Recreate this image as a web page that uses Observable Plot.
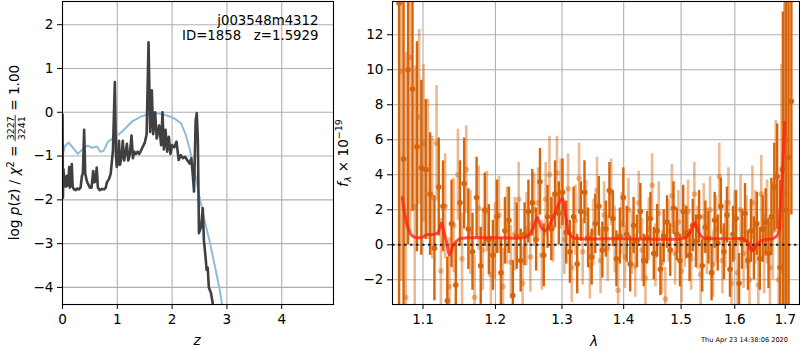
<!DOCTYPE html>
<html><head><meta charset="utf-8">
<script src="https://cdn.jsdelivr.net/npm/d3@7"></script>
<script src="https://cdn.jsdelivr.net/npm/@observablehq/plot@0.6"></script>
<style>
body{margin:0;background:#fff;}
#wrap{position:relative;width:800px;height:350px;font-family:"DejaVu Sans",sans-serif;overflow:hidden;}
#wrap svg{position:absolute;top:0;}
</style></head><body><div id="wrap"></div>
<script>
// ---------- left panel: log p(z) ----------
const zTicks = [0, 1, 2, 3, 4];
const pzTicks = [-4, -3, -2, -1, 0, 1, 2];
const zPz = [0.000,0.008,0.018,0.030,0.045,0.060,0.075,0.090,0.110,0.122,0.135,0.150,0.170,0.185,0.210,0.240,0.270,0.300,0.330,0.355,0.372,0.395,0.415,0.440,0.460,0.500,0.530,0.560,0.580,0.600,0.625,0.645,0.680,0.720,0.760,0.790,0.810,0.850,0.880,0.920,0.955,0.975,0.990,1.010,1.030,1.050,1.080,1.100,1.125,1.155,1.175,1.200,1.230,1.260,1.285,1.310,1.340,1.370,1.400,1.430,1.460,1.500,1.535,1.570,1.600,1.630,1.655,1.690,1.720,1.765,1.800,1.825,1.850,1.880,1.910,1.940,1.970,2.000,2.040,2.080,2.120,2.160,2.200,2.240,2.280,2.320,2.350,2.380,2.400,2.430,2.450,2.470,2.490,2.530,2.560,2.580,2.610,2.630,2.650,2.670,2.710,2.760,2.800];
const logPz = [-0.05,-1.95,-1.30,-1.60,-1.55,-1.70,-1.45,-1.68,-1.55,-1.25,-1.72,-1.62,-1.18,-1.70,-1.76,-1.78,-1.74,-1.76,-1.72,-1.45,-1.40,-0.40,-1.40,-1.55,-1.62,-1.72,-1.72,-1.34,-1.60,-1.58,-1.26,-1.72,-1.78,-1.75,-1.76,-1.72,-1.60,-1.52,-1.40,-0.88,0.69,-0.95,-1.25,-1.15,-0.65,-1.20,-1.00,-0.65,-1.10,-0.90,-0.72,-1.10,-0.95,-0.53,-1.05,-0.90,-0.95,-0.90,-0.95,-0.88,-0.80,-0.70,-0.50,1.60,-0.45,0.50,-0.50,0.00,-0.60,-0.30,-0.75,0.00,-0.85,-0.40,-0.90,-0.56,-0.95,-0.75,-0.80,-0.67,-1.09,-0.98,-1.05,-1.02,-1.10,-1.17,-1.05,-1.47,-1.81,-0.18,-0.02,-0.63,-2.76,-2.61,-2.19,-2.92,-3.30,-3.60,-3.55,-4.00,-4.13,-4.51,-4.90];
const zPrior = [0.00,0.04,0.11,0.17,0.28,0.39,0.46,0.54,0.63,0.69,0.75,0.83,0.97,1.09,1.27,1.43,1.58,1.73,1.92,2.04,2.16,2.24,2.31,2.41,2.50,2.59,2.68,2.77,2.87,2.91,2.96];
const logPrior = [-1.00,-0.78,-0.69,-0.78,-0.95,-0.82,-0.76,-0.81,-0.78,-0.90,-0.88,-0.67,-0.56,-0.44,-0.21,-0.10,-0.04,-0.02,-0.08,-0.14,-0.25,-0.48,-0.78,-1.32,-1.93,-2.46,-2.92,-3.45,-4.06,-4.38,-4.75];
const annotLine1 = "j003548m4312";
const annotLine2 = "ID=1858\u00a0\u00a0\u00a0z=1.5929";

// ---------- right panel: spectrum ----------
const lamTicks = [1.1, 1.2, 1.3, 1.4, 1.5, 1.6, 1.7];
const fluxTicks = [-2, 0, 2, 4, 6, 8, 10, 12];
const lamA = [1.0688,1.0746,1.0804,1.0862,1.0920,1.0978,1.1036,1.1094,1.1152,1.1210,1.1268,1.1326,1.1384,1.1442,1.1500,1.1558,1.1616,1.1674,1.1732,1.1790,1.1848,1.1906,1.1964,1.2022,1.2080,1.2138,1.2196,1.2254,1.2312,1.2370,1.2428,1.2486,1.2544,1.2602,1.2660,1.2718,1.2776,1.2834,1.2892,1.2950,1.3008,1.3066,1.3124,1.3182,1.3240,1.3298,1.3356,1.3414,1.3472,1.3530,1.3588,1.3646,1.3704,1.3762,1.3820,1.3878,1.3936,1.3994,1.4052,1.4110,1.4168,1.4226,1.4284,1.4342,1.4400,1.4458,1.4516,1.4574,1.4632,1.4690,1.4748,1.4806,1.4864,1.4922,1.4980,1.5038,1.5096,1.5154,1.5212,1.5270,1.5328,1.5386,1.5444,1.5502,1.5560,1.5618,1.5676,1.5734,1.5792,1.5850,1.5908,1.5966,1.6024,1.6082,1.6140,1.6198,1.6256,1.6314,1.6372,1.6430,1.6488,1.6546,1.6604,1.6662,1.6720,1.6778,1.6836,1.6894,1.6952,1.7010,1.7068,1.7126];
const fluxA = [13.8,4.9,10.0,8.9,5.6,4.4,4.3,2.9,-0.2,3.3,2.2,-3.2,1.2,-2.3,2.4,3.5,0.9,-0.4,2.7,-1.2,2.0,0.3,-0.6,1.6,-1.6,0.8,1.4,-2.9,0.5,-0.9,0.6,1.9,2.4,0.3,3.6,-0.6,1.6,0.9,2.9,1.8,3.0,0.7,-0.4,1.6,-1.1,1.9,3.0,0.4,-0.7,1.2,2.2,-0.3,0.9,3.1,1.5,-0.8,0.5,2.7,0.6,-1.1,1.1,0.2,1.9,-0.9,0.4,1.5,-0.5,0.8,-1.4,0.5,1.3,-0.3,2.1,0.6,-0.9,1.9,0.7,-0.6,1.1,0.2,1.6,-1.2,1.0,0.4,-1.6,1.4,0.1,2.2,-0.4,1.7,-1.4,0.6,1.5,-2.2,0.3,1.8,-0.9,0.8,-0.2,1.2,-0.8,0.9,1.3,-0.5,1.6,3.3,3.9,-1.3,4.3,2.0,5.0,8.2];
const errA = [20,9,10,7,6,5,4,3.5,3,2.8,2.6,2.5,2.5,2.4,2.4,2.6,2.3,2.2,2.3,2.2,2.1,2.0,2.0,2.1,2.0,1.9,1.9,2.0,1.9,1.8,1.8,1.8,1.9,1.8,1.9,1.8,1.8,1.8,1.9,1.8,1.9,1.8,1.8,1.7,1.7,1.7,1.8,1.7,1.6,1.7,1.7,1.6,1.6,1.6,1.6,1.6,1.6,1.7,1.6,1.6,1.6,1.5,1.6,1.5,1.5,1.5,1.5,1.5,1.5,1.5,1.5,1.5,1.5,1.5,1.5,1.5,1.5,1.5,1.5,1.5,1.5,1.5,1.5,1.5,1.6,1.6,1.6,1.6,1.6,1.6,1.6,1.6,1.6,1.7,1.7,1.7,1.7,1.8,1.8,1.8,1.8,1.9,1.9,2.0,2.2,2.5,3,5,9,20,30,6.5];
const lamB = [1.0717,1.0775,1.0833,1.0891,1.0949,1.1007,1.1065,1.1123,1.1181,1.1239,1.1297,1.1355,1.1413,1.1471,1.1529,1.1587,1.1645,1.1703,1.1761,1.1819,1.1877,1.1935,1.1993,1.2051,1.2109,1.2167,1.2225,1.2283,1.2341,1.2399,1.2457,1.2515,1.2573,1.2631,1.2689,1.2747,1.2805,1.2863,1.2921,1.2979,1.3037,1.3095,1.3153,1.3211,1.3269,1.3327,1.3385,1.3443,1.3501,1.3559,1.3617,1.3675,1.3733,1.3791,1.3849,1.3907,1.3965,1.4023,1.4081,1.4139,1.4197,1.4255,1.4313,1.4371,1.4429,1.4487,1.4545,1.4603,1.4661,1.4719,1.4777,1.4835,1.4893,1.4951,1.5009,1.5067,1.5125,1.5183,1.5241,1.5299,1.5357,1.5415,1.5473,1.5531,1.5589,1.5647,1.5705,1.5763,1.5821,1.5879,1.5937,1.5995,1.6053,1.6111,1.6169,1.6227,1.6285,1.6343,1.6401,1.6459,1.6517,1.6575,1.6633,1.6691,1.6749,1.6807,1.6865,1.6923,1.6981,1.7039];
const fluxB = [9.9,-3.0,10.7,2.2,7.3,5.8,4.3,2.7,5.8,-1.5,2.2,-2.4,1.1,4.0,-0.8,4.3,0.7,-3.0,2.1,-0.3,1.9,-1.7,0.2,1.7,-2.4,1.1,-1.0,0.6,2.6,-2.2,0.9,-0.7,2.0,2.4,-0.6,2.6,4.0,1.0,4.1,2.9,0.3,3.2,-1.3,1.4,3.8,-0.4,1.8,-1.2,0.7,3.1,-0.9,1.7,-0.2,3.0,0.3,-2.6,1.2,-0.7,2.0,0.1,-1.2,2.4,-0.3,-1.9,0.9,3.4,-0.6,1.8,-1.0,-3.1,0.8,2.8,-0.5,1.3,-1.5,0.5,1.9,-0.8,2.9,0.4,-1.7,1.6,0.2,2.0,-1.1,0.9,3.9,-0.9,0.6,2.4,-2.2,1.1,-1.6,2.0,-0.5,0.7,-2.0,2.4,1.0,-2.3,2.9,-0.5,1.3,-1.3,0.8,3.9,-2.0,4.3,3.0,6.0];
const errB = [12,14,10,8,5,4.5,4,3.5,3.3,3,3,2.8,2.7,2.6,2.6,2.5,2.4,2.4,2.4,2.3,2.3,2.2,2.2,2.2,2.2,2.2,2.1,2.1,2.1,2.1,2.1,2.0,2.1,2.0,2.0,2.1,2.2,2.0,2.1,2.0,2.0,2.0,2.0,2.0,2.0,1.9,1.9,1.9,1.9,1.9,1.9,1.9,1.9,1.9,1.9,1.9,1.8,1.8,1.8,1.8,1.8,1.8,1.8,1.8,1.8,1.8,1.8,1.8,1.8,1.8,1.8,1.8,1.8,1.8,1.8,1.8,1.8,1.8,1.8,1.8,1.9,1.9,1.9,1.9,1.9,1.9,1.9,1.9,1.9,2.0,2.0,2.0,2.0,2.0,2.0,2.1,2.1,2.1,2.1,2.2,2.2,2.3,2.4,2.6,2.8,3.2,4,6,12,30];
const modelLam = [1.073,1.076,1.080,1.085,1.090,1.095,1.100,1.105,1.110,1.115,1.120,1.1245,1.128,1.132,1.1355,1.140,1.145,1.150,1.160,1.200,1.240,1.248,1.255,1.262,1.268,1.274,1.280,1.290,1.300,1.306,1.312,1.318,1.330,1.400,1.500,1.510,1.518,1.525,1.532,1.540,1.550,1.600,1.615,1.625,1.633,1.640,1.650,1.660,1.675,1.685,1.690,1.695,1.699];
const modelFlux = [2.7,1.8,1.0,0.55,0.42,0.40,0.45,0.58,0.58,0.60,0.70,1.25,0.70,0.10,-0.60,-0.10,0.20,0.35,0.40,0.40,0.40,0.50,0.90,1.55,1.00,0.80,1.10,1.90,2.65,1.60,0.60,0.40,0.35,0.35,0.35,0.45,0.80,1.25,0.70,0.40,0.35,0.35,0.35,0.15,-0.35,-0.10,0.20,0.30,0.35,0.60,2.00,4.50,7.00];
const timestamp = "Thu Apr 23 14:38:06 2020";

// ---------- build ----------
const FONT = "DejaVu Sans";
const FS = 13.6;
const fmtInt = d3.format("d");
const grid = "#b0b0b0";
const orange = "#d8640a";

const pzData = zPz.map((z, i) => ({z, v: logPz[i]}));
const priorData = zPrior.map((z, i) => ({z, v: logPrior[i]}));
const specA = lamA.map((l, i) => ({l, f: fluxA[i], e: errA[i]}));
const specB = lamB.map((l, i) => ({l, f: fluxB[i], e: errB[i]}));
const model = modelLam.map((l, i) => ({l, f: modelFlux[i]}));

const wrap = document.getElementById("wrap");

const left = Plot.plot({
  width: 340, height: 350,
  marginLeft: 62, marginRight: 7, marginTop: 1, marginBottom: 46,
  style: {fontFamily: FONT, fontSize: FS + "px", background: "transparent", overflow: "visible"},
  x: {domain: [0, 4.945], ticks: zTicks, tickFormat: fmtInt, tickSize: 5, tickPadding: 5, label: null},
  y: {domain: [-4.39, 2.53], ticks: pzTicks, tickFormat: fmtInt, tickSize: 5, tickPadding: 4, label: null},
  marks: [
    Plot.ruleX(zTicks, {x: d => d, stroke: grid, strokeWidth: 1.1}),
    Plot.ruleY(pzTicks, {y: d => d, stroke: grid, strokeWidth: 1.1}),
    Plot.line(priorData, {x: "z", y: "v", stroke: "#8fbbd9", strokeWidth: 2, clip: true}),
    Plot.line(pzData, {x: "z", y: "v", stroke: "#404040", strokeWidth: 2.6, clip: true}),
    Plot.text([annotLine1], {text: d => d, frameAnchor: "top-right", dx: -15, dy: 19.5,
      textAnchor: "end", lineAnchor: "middle", fontSize: 13.3, fill: "black"}),
    Plot.text([annotLine2], {text: d => d, frameAnchor: "top-right", dx: -15, dy: 34.5,
      textAnchor: "end", lineAnchor: "middle", fontSize: 13.3, fill: "black"}),
    Plot.frame({stroke: "black", strokeWidth: 1.1})
  ]
});
left.style.left = "0px";
wrap.appendChild(left);

const right = Plot.plot({
  width: 460, height: 350,
  marginLeft: 52, marginRight: 1, marginTop: 1, marginBottom: 46,
  style: {fontFamily: FONT, fontSize: FS + "px", background: "transparent", overflow: "visible"},
  x: {type: "log", domain: [1.0604, 1.7294], ticks: lamTicks, tickFormat: d3.format(".1f"), tickSize: 5, tickPadding: 5, label: null},
  y: {domain: [-3.41, 13.9], ticks: fluxTicks, tickFormat: fmtInt, tickSize: 5, tickPadding: 4, label: null},
  marks: [
    Plot.ruleX(lamTicks, {x: d => d, stroke: grid, strokeWidth: 1.1}),
    Plot.ruleY(fluxTicks, {y: d => d, stroke: grid, strokeWidth: 1.1}),
    Plot.ruleX(specB, {x: "l", y1: d => d.f - d.e, y2: d => d.f + d.e, stroke: orange, strokeOpacity: 0.45, strokeWidth: 2.6, clip: true}),
    Plot.dot(specB, {x: "l", y: "f", r: 2.8, fill: orange, fillOpacity: 0.45, clip: true}),
    Plot.ruleX(specA, {x: "l", y1: d => d.f - d.e, y2: d => d.f + d.e, stroke: orange, strokeOpacity: 1, strokeWidth: 2.4, clip: true}),
    Plot.dot(specA, {x: "l", y: "f", r: 2.8, fill: orange, fillOpacity: 1, clip: true}),
    Plot.ruleY([0], {stroke: "#222", strokeWidth: 2, strokeDasharray: "2.5,3.5"}),
    Plot.line(model, {x: "l", y: "f", stroke: "#ff2010", strokeOpacity: 0.78, strokeWidth: 3, curve: "catmull-rom", clip: true}),
    Plot.frame({stroke: "black", strokeWidth: 1.1})
  ]
});
right.style.left = "340px";
wrap.appendChild(right);

// ---------- overlay: axis labels and timestamp ----------
const ov = d3.select(wrap).append("svg")
  .attr("width", 800).attr("height", 350)
  .style("left", "0px").style("pointer-events", "none")
  .attr("font-family", FONT).attr("font-size", FS);

ov.append("text").attr("x", 197).attr("y", 345).attr("text-anchor", "middle")
  .attr("font-style", "italic").text("z");
ov.append("text").attr("x", 594).attr("y", 346).attr("text-anchor", "middle")
  .attr("font-style", "italic").text("λ");
ov.append("text").attr("x", 788).attr("y", 342).attr("text-anchor", "end")
  .attr("font-size", 6.6).text(timestamp);

// left y label with stacked fraction
{
  const outer = ov.append("g").attr("transform", "translate(19,152.5) rotate(-90)");
  const g = outer.append("g");
  const t1 = g.append("text").style("white-space", "pre");
  t1.append("tspan").text("log ");
  t1.append("tspan").attr("font-style", "italic").text("p");
  t1.append("tspan").text("(");
  t1.append("tspan").attr("font-style", "italic").text("z");
  t1.append("tspan").text(") / ");
  t1.append("tspan").attr("font-style", "italic").text("χ");
  t1.append("tspan").attr("font-size", 9.7).attr("dy", -5.5).text("2");
  t1.append("tspan").attr("dy", 5.5).text(" = ");
  const w1 = t1.node().getComputedTextLength();
  const num = g.append("text").attr("font-size", 9.5).attr("text-anchor", "middle").attr("y", -5.5).text("3227");
  const den = g.append("text").attr("font-size", 9.5).attr("text-anchor", "middle").attr("y", 6).text("3241");
  const fw = Math.max(num.node().getComputedTextLength(), den.node().getComputedTextLength()) + 2;
  num.attr("x", w1 + fw / 2);
  den.attr("x", w1 + fw / 2);
  g.append("line").attr("x1", w1).attr("x2", w1 + fw).attr("y1", -3.8).attr("y2", -3.8)
    .attr("stroke", "black").attr("stroke-width", 0.8);
  const t3 = g.append("text").style("white-space", "pre").attr("x", w1 + fw).text(" = 1.00");
  const W = w1 + fw + t3.node().getComputedTextLength();
  g.attr("transform", `translate(${-W / 2},0)`);
}
// right y label
{
  const outer = ov.append("g").attr("transform", "translate(348,153) rotate(-90)");
  const t = outer.append("text").attr("text-anchor", "middle").style("white-space", "pre");
  t.append("tspan").attr("font-style", "italic").text("f");
  t.append("tspan").attr("font-style", "italic").attr("font-size", 9.5).attr("dy", 3).text("λ");
  t.append("tspan").attr("dy", -3).text(" × 10");
  t.append("tspan").attr("font-size", 9.5).attr("dy", -6).text("−19");
}
</script>
</body></html>
